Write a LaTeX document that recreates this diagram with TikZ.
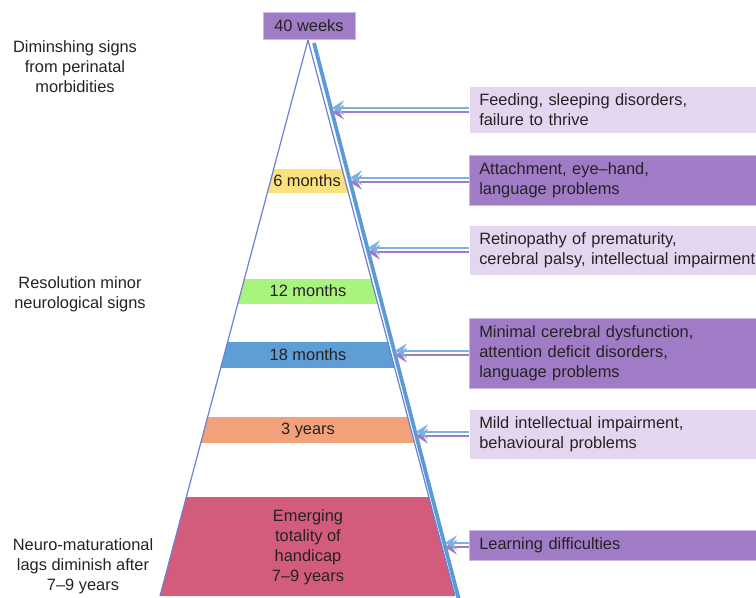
\documentclass[tikz,border=0pt]{standalone}
\usepackage{fontspec}
\setmainfont{Liberation Sans}
\usetikzlibrary{arrows.meta}

\definecolor{darkpurple}{HTML}{A07CC6}
\definecolor{lightpurple}{HTML}{E5D6F0}
\definecolor{bandyellow}{HTML}{FBE27C}
\definecolor{bandgreen}{HTML}{A9F47E}
\definecolor{bandblue}{HTML}{5E9DD6}
\definecolor{bandorange}{HTML}{F2A17B}
\definecolor{bandpink}{HTML}{D35B7C}
\definecolor{edgeblue}{HTML}{5B9BD5}
\definecolor{arrowblue}{HTML}{7AB3E0}
\definecolor{outline}{HTML}{6C7ED6}
\definecolor{inktext}{HTML}{262224}

\begin{document}
\begin{tikzpicture}[
		x=0.75pt, y=-0.75pt,
		every node/.style={font=\fontsize{12.3}{15}\selectfont, text=inktext},
		sidelabel/.style={align=center},
		rbox/.style={anchor=west, align=left, text width=236pt, inner xsep=7.5pt, inner ysep=5.5pt},
		darkbox/.style={rbox, fill=darkpurple, draw=darkpurple!55!white},
		lightbox/.style={rbox, fill=lightpurple, draw=white},
		barr/.style={draw=arrowblue, line width=1.2pt, -{Stealth[length=9pt, width=11pt, inset=3.5pt]}},
		parr/.style={draw=darkpurple, line width=1.2pt, -{Stealth[length=9pt, width=11pt, inset=3.5pt]}}
		]
		
		\useasboundingbox (0,0) rectangle (756,598);
		
		% Pyramid corners and the thick right edge
		\coordinate (apex) at (308,40);
		\coordinate (baseL) at (160,596);
		\coordinate (baseR) at (455,596);
		\coordinate (edgetop) at (314,43);
		\coordinate (edgebot) at (459,600);
		
		% 1. Pyramid with its coloured bands
		\fill[white] (apex) -- (baseL) -- (baseR) -- cycle;
		\begin{scope}
			\clip (apex) -- (baseL) -- (baseR) -- cycle;
			\fill[bandyellow] (150,169) rectangle (470,193);
			\fill[bandgreen] (150,279) rectangle (470,304);
			\fill[bandblue] (150,342) rectangle (470,368);
			\fill[bandorange] (150,417) rectangle (470,443);
			\fill[bandpink] (150,497) rectangle (470,600);
		\end{scope}
		\draw[outline, line width=0.9pt] (baseL) -- (apex) -- (baseR);
		\draw[edgeblue, line width=2.8pt] (edgetop) -- (edgebot);
		
		% 2. Age labels on the bands
		\node (w40) [fill=darkpurple, draw=darkpurple!55!white, minimum width=69pt, minimum height=20pt, inner sep=0pt] at (309,25.5) {40 weeks};
		\node (m6) at (307,181) {6 months};
		\node (m12) at (308,291) {12 months};
		\node (m18) at (308,355) {18 months};
		\node (y3) at (308,430) {3 years};
		\node (y79) [align=center] at (308,547) {Emerging\\totality of\\handicap\\7--9 years};
		
		% 3. Side notes on the left
		\node[sidelabel] (perinatal) at (75,67) {Diminshing signs\\from perinatal\\morbidities};
		\node[sidelabel] (minor) at (80,294) {Resolution minor\\neurological signs};
		\node[sidelabel] (lags) at (83,566) {Neuro-maturational\\lags diminish after\\7--9 years};
		
		% 4. Problem boxes on the right
		\node[lightbox] (feed) at (469,110) {Feeding, sleeping disorders,\\failure to thrive};
		\node[darkbox] (attach) at (469,180) {Attachment, eye--hand,\\language problems};
		\node[lightbox] (retino) at (469,250) {Retinopathy of prematurity,\\cerebral palsy, intellectual impairment};
		\node[darkbox] (dysfunc) at (469,353) {Minimal cerebral dysfunction,\\attention deficit disorders,\\language problems};
		\node[lightbox] (mild) at (469,434) {Mild intellectual impairment,\\behavioural problems};
		\node[darkbox] (learn) at (469,545) {Learning difficulties};
		
		% Where the arrows meet the edge
		\coordinate (hit1) at (332,110);
		\coordinate (hit2) at (350,180);
		\coordinate (hit3) at (368,250);
		\coordinate (hit4) at (395,353);
		\coordinate (hit5) at (416,434);
		\coordinate (hit6) at (445,545);
		
		% 5. Twin arrows into the edge
		\draw[parr] ([yshift=-1.7pt]feed.west) -- ([yshift=-1.7pt]hit1 |- feed.west);
		\draw[barr] ([yshift=1.7pt]feed.west) -- ([yshift=1.7pt]hit1 |- feed.west);
		\draw[parr] ([yshift=-1.7pt]attach.west) -- ([yshift=-1.7pt]hit2 |- attach.west);
		\draw[barr] ([yshift=1.7pt]attach.west) -- ([yshift=1.7pt]hit2 |- attach.west);
		\draw[parr] ([yshift=-1.7pt]retino.west) -- ([yshift=-1.7pt]hit3 |- retino.west);
		\draw[barr] ([yshift=1.7pt]retino.west) -- ([yshift=1.7pt]hit3 |- retino.west);
		\draw[parr] ([yshift=-1.7pt]dysfunc.west) -- ([yshift=-1.7pt]hit4 |- dysfunc.west);
		\draw[barr] ([yshift=1.7pt]dysfunc.west) -- ([yshift=1.7pt]hit4 |- dysfunc.west);
		\draw[parr] ([yshift=-1.7pt]mild.west) -- ([yshift=-1.7pt]hit5 |- mild.west);
		\draw[barr] ([yshift=1.7pt]mild.west) -- ([yshift=1.7pt]hit5 |- mild.west);
		\draw[parr] ([yshift=-1.7pt]learn.west) -- ([yshift=-1.7pt]hit6 |- learn.west);
		\draw[barr] ([yshift=1.7pt]learn.west) -- ([yshift=1.7pt]hit6 |- learn.west);
		
	\end{tikzpicture}
\end{document}
